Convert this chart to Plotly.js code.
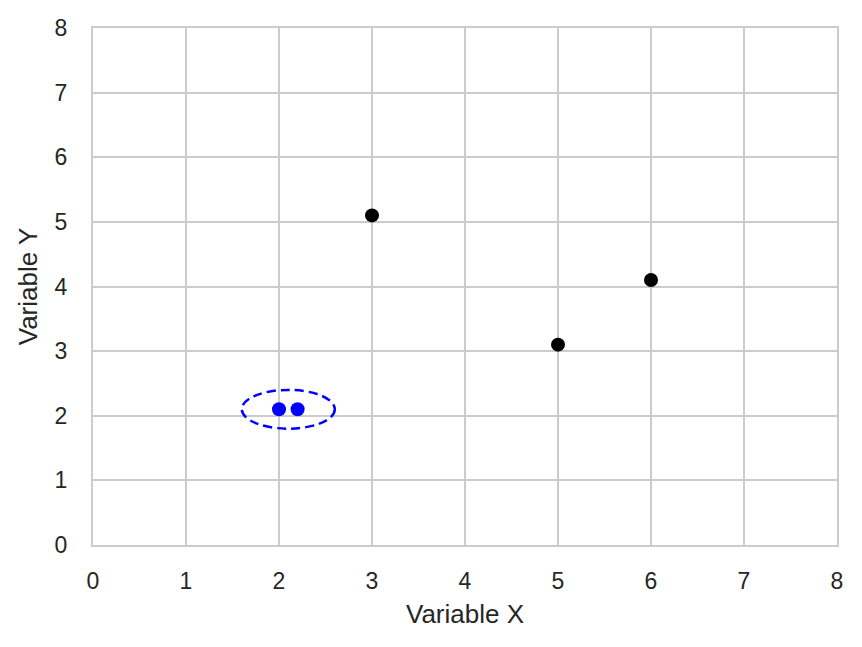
<!DOCTYPE html>
<html><head><meta charset="utf-8">
<script src="https://cdn.plot.ly/plotly-3.0.1.min.js"></script>
<style>body{margin:0;background:#fff}#c{width:862px;height:647px}</style>
</head><body><div id="c"></div>
<script>
const blackX = [3, 5, 6];
const blackY = [5.1, 3.1, 4.1];
const blueX = [2, 2.2];
const blueY = [2.1, 2.1];
const ellipseCenter = [2.1, 2.1];
const ellipseRadius = [0.5, 0.3];
const ticks = [0,1,2,3,4,5,6,7,8];

const traces = [
  {x: blackX, y: blackY, mode:'markers', type:'scatter', marker:{color:'black', size:14}, cliponaxis:false},
  {x: blueX, y: blueY, mode:'markers', type:'scatter', marker:{color:'blue', size:14}, cliponaxis:false}
];
const axisCommon = {
  range:[0,8], tickvals: ticks, ticktext: ticks.map(String),
  showgrid:true, gridcolor:'#cccccc', gridwidth:2,
  zeroline:false, showline:true, linecolor:'#cccccc', linewidth:2, mirror:true,
  ticks:'', tickfont:{size:23, color:'#262626'}, fixedrange:true, automargin:false
};
const layout = {
  width:862, height:647,
  margin:{l:93, r:25, t:28, b:102},
  paper_bgcolor:'#ffffff', plot_bgcolor:'#ffffff',
  font:{family:'Liberation Sans, Arial, sans-serif', color:'#262626'},
  showlegend:false,
  xaxis: Object.assign({}, axisCommon, {ticklabelstandoff:14, title:{text:'Variable X', font:{size:26}, standoff:12}}),
  yaxis: Object.assign({}, axisCommon, {ticklabelstandoff:19, title:{text:'Variable Y', font:{size:26}, standoff:10}}),
  shapes:[{
    type:'circle', xref:'x', yref:'y',
    x0: ellipseCenter[0]-ellipseRadius[0], x1: ellipseCenter[0]+ellipseRadius[0],
    y0: ellipseCenter[1]-ellipseRadius[1], y1: ellipseCenter[1]+ellipseRadius[1],
    line:{color:'blue', width:2.5, dash:'9px,5px'}, fillcolor:'rgba(0,0,0,0)'
  }]
};
Plotly.newPlot('c', traces, layout, {staticPlot:true});
</script></body></html>
